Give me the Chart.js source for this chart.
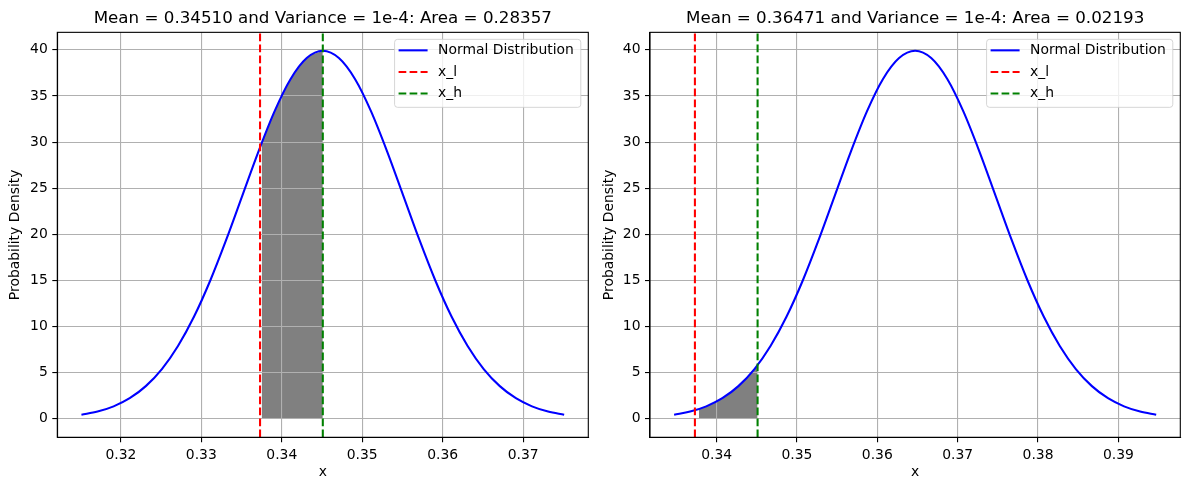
<!DOCTYPE html>
<html lang="en">
<head>
  <meta charset="UTF-8">
  <title>Normal distribution areas</title>
  <script src="https://cdn.jsdelivr.net/npm/chart.js"></script>
  <style>
    body { margin: 0; background: #fff; }
    #wrap { position: relative; width: 1189px; height: 490px; }
    canvas { position: absolute; top: 0; }
    #leftChart { left: 0; }
    #rightChart { left: 594px; }
  </style>
</head>
<body>
  <div id="wrap">
    <canvas id="leftChart" width="594" height="490"></canvas>
    <canvas id="rightChart" width="595" height="490"></canvas>
  </div>

  <script>
    // values
    const leftX = [0.31510, 0.31710, 0.31910, 0.32110, 0.32310, 0.32510, 0.32710, 0.32910, 0.33110, 0.33310,
                   0.33510, 0.33710, 0.33910, 0.34110, 0.34310, 0.34510, 0.34710, 0.34910, 0.35110, 0.35310,
                   0.35510, 0.35710, 0.35910, 0.36110, 0.36310, 0.36510, 0.36710, 0.36910, 0.37110, 0.37310, 0.37510];
    const leftDensity = [0.44, 0.79, 1.36, 2.24, 3.55, 5.40, 7.90, 11.09, 14.97, 19.42,
                         24.20, 28.97, 33.32, 36.83, 39.10, 39.89, 39.10, 36.83, 33.32, 28.97,
                         24.20, 19.42, 14.97, 11.09, 7.90, 5.40, 3.55, 2.24, 1.36, 0.79, 0.44];
    const leftShadeX = [0.3375, 0.3391, 0.3411, 0.3431, 0.3451];
    const leftShadeY = [29.89, 33.32, 36.83, 39.10, 39.89];

    const rightX = [0.33471, 0.33671, 0.33871, 0.34071, 0.34271, 0.34471, 0.34671, 0.34871, 0.35071, 0.35271,
                    0.35471, 0.35671, 0.35871, 0.36071, 0.36271, 0.36471, 0.36671, 0.36871, 0.37071, 0.37271,
                    0.37471, 0.37671, 0.37871, 0.38071, 0.38271, 0.38471, 0.38671, 0.38871, 0.39071, 0.39271, 0.39471];
    const rightDensity = [0.44, 0.79, 1.36, 2.24, 3.55, 5.40, 7.90, 11.09, 14.97, 19.42,
                          24.20, 28.97, 33.32, 36.83, 39.10, 39.89, 39.10, 36.83, 33.32, 28.97,
                          24.20, 19.42, 14.97, 11.09, 7.90, 5.40, 3.55, 2.24, 1.36, 0.79, 0.44];
    const rightShadeX = [0.3378, 0.33871, 0.34071, 0.34271, 0.34471, 0.3451];
    const rightShadeY = [1.07, 1.36, 2.24, 3.55, 5.40, 5.83];

    const xLow = 0.3373;
    const xHigh = 0.3451;
    const yTicks = [0, 5, 10, 15, 20, 25, 30, 35, 40];
    const yRange = [-1.995, 41.889];

    const titles = [
      'Mean = 0.34510 and Variance = 1e-4: Area = 0.28357',
      'Mean = 0.36471 and Variance = 1e-4: Area = 0.02193'
    ];

    Chart.defaults.font.family = '"DejaVu Sans", sans-serif';
    Chart.defaults.color = '#000';

    const pts = (xs, ys) => xs.map((x, i) => ({ x, y: ys[i] }));
    const FS = 13.9;
    const LW = 2.08;            // 1.5pt lines
    const THIN = 1.1;           // 0.8pt grid / spines
    const DASH = [7.7, 3.3];

    // top and right spines
    const frame = {
      id: 'frame',
      afterDatasetsDraw(chart) {
        const a = chart.chartArea, ctx = chart.ctx;
        ctx.save();
        ctx.strokeStyle = '#000';
        ctx.lineWidth = THIN;
        ctx.strokeRect(a.left, a.top, a.right - a.left, a.bottom - a.top);
        ctx.restore();
      }
    };

    // matplotlib style legend in the upper right corner
    const insideLegend = {
      id: 'insideLegend',
      afterDraw(chart) {
        const items = chart.data.datasets.filter(d => d.label);
        const ctx = chart.ctx, a = chart.chartArea;
        ctx.save();
        ctx.font = FS + 'px "DejaVu Sans"';
        const tw = Math.max(...items.map(d => ctx.measureText(d.label).width));
        const w = 43.5 + tw + 7, h = 68;
        const x0 = a.right - 7.5 - w, y0 = a.top + 7;
        ctx.beginPath();
        ctx.roundRect(x0, y0, w, h, 3);
        ctx.fillStyle = 'rgba(255,255,255,0.8)';
        ctx.fill();
        ctx.strokeStyle = 'rgba(204,204,204,0.8)';
        ctx.lineWidth = 1;
        ctx.stroke();
        items.forEach((d, k) => {
          const y = y0 + 11 + k * 21.6;
          ctx.beginPath();
          ctx.setLineDash(d.borderDash || []);
          ctx.strokeStyle = d.borderColor;
          ctx.lineWidth = LW;
          ctx.moveTo(x0 + 4, y);
          ctx.lineTo(x0 + 33, y);
          ctx.stroke();
          ctx.setLineDash([]);
          ctx.fillStyle = '#000';
          ctx.textBaseline = 'middle';
          ctx.fillText(d.label, x0 + 43.5, y);
        });
        ctx.restore();
      }
    };

    function makeChart(id, title, xs, ys, shadeX, shadeY, xMin, xMax, axisW, padRight) {
      return new Chart(document.getElementById(id), {
        type: 'line',
        data: {
          datasets: [
            {
              label: 'Normal Distribution',
              data: pts(xs, ys),
              borderColor: '#0000ff',
              borderWidth: LW,
              pointRadius: 0,
              cubicInterpolationMode: 'monotone',
              fill: false,
              order: 3
            },
            {
              label: 'x_l',
              data: [{ x: xLow, y: yRange[0] }, { x: xLow, y: yRange[1] }],
              borderColor: '#ff0000',
              borderDash: DASH,
              borderWidth: LW,
              pointRadius: 0,
              fill: false,
              order: 2
            },
            {
              label: 'x_h',
              data: [{ x: xHigh, y: yRange[0] }, { x: xHigh, y: yRange[1] }],
              borderColor: '#008000',
              borderDash: DASH,
              borderWidth: LW,
              pointRadius: 0,
              fill: false,
              order: 1
            },
            {
              label: '',
              data: pts(shadeX, shadeY),
              borderWidth: 0,
              borderColor: 'rgba(0,0,0,0)',
              backgroundColor: '#808080',
              pointRadius: 0,
              cubicInterpolationMode: 'monotone',
              fill: 'origin',
              order: 4
            }
          ]
        },
        options: {
          responsive: false,
          animation: false,
          layout: { padding: { left: 0, right: padRight, top: 0, bottom: 0 } },
          plugins: {
            legend: { display: false },
            tooltip: { enabled: false },
            filler: { drawTime: 'beforeDraw' },
            title: {
              display: true,
              text: title,
              fullSize: false,
              color: '#000',
              font: { size: 16.7, weight: 'normal', lineHeight: 1.2 },
              padding: { top: 8.6, bottom: 3.7 }
            }
          },
          scales: {
            x: {
              type: 'linear',
              min: xMin,
              max: xMax,
              afterFit: s => { s.height = 52.7; },
              ticks: {
                stepSize: 0.01,
                includeBounds: false,
                autoSkip: false,
                maxRotation: 0,
                padding: 4.5,
                color: '#000',
                font: { size: FS },
                callback: v => v.toFixed(2)
              },
              grid: { color: '#b0b0b0', lineWidth: THIN, tickLength: 5, tickColor: '#000', tickWidth: THIN },
              border: { color: '#000', width: THIN },
              title: { display: true, text: 'x', color: '#000', font: { size: FS }, padding: { top: 0, bottom: 9.5 } }
            },
            y: {
              min: yRange[0],
              max: yRange[1],
              afterFit: s => { s.width = axisW; },
              afterBuildTicks: s => { s.ticks = yTicks.map(v => ({ value: v })); },
              ticks: {
                padding: 4.5,
                color: '#000',
                font: { size: FS },
                callback: v => String(v)
              },
              grid: { color: '#b0b0b0', lineWidth: THIN, tickLength: 5, tickColor: '#000', tickWidth: THIN },
              border: { color: '#000', width: THIN },
              title: { display: true, text: 'Probability Density', color: '#000', font: { size: FS }, padding: { top: 7.5, bottom: 0 } }
            }
          }
        },
        plugins: [frame, insideLegend]
      });
    }

    makeChart('leftChart', titles[0], leftX, leftDensity, leftShadeX, leftShadeY, 0.3121, 0.3781, 57.3, 5.7);
    makeChart('rightChart', titles[1], rightX, rightDensity, rightShadeX, rightShadeY, 0.33171, 0.39771, 56, 8.7);
  </script>
</body>
</html>
